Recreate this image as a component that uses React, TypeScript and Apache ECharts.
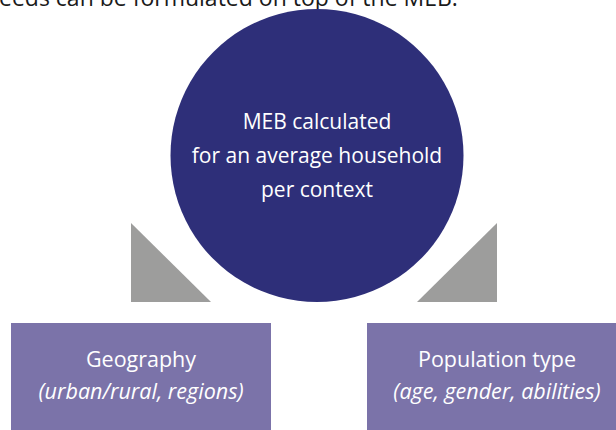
import React, { useEffect, useRef } from "react";
import * as echarts from "echarts";

const topLine = "eeds can be formulated on top of the MEB.";
const circleLines = ["MEB calculated", "for an average household", "per context"];
const boxTitles = ["Geography", "Population type"];
const boxSubtitles = ["(urban/rural, regions)", "(age, gender, abilities)"];

const NAVY = "#2e2f79";
const PURPLE = "#7b73a9";
const GREY = "#9d9d9c";
const FONT = "'Open Sans', 'Noto Sans', sans-serif";

export default function App() {
  const ref = useRef<HTMLDivElement>(null);
  useEffect(() => {
    if (!ref.current) return;
    const chart = echarts.init(ref.current, undefined, { renderer: "svg" });
    const cx = 317;
    const cy = 155.5;
    const r = 146.5;
    const lineMid = [120.7, 154.7, 188.7];
    const boxes = [
      { x: 11, y: 323, w: 260, h: 110, cx: 141 },
      { x: 367, y: 323, w: 252, h: 110, cx: 497 },
    ];
    const elements: any[] = [
      {
        type: "text",
        x: -1,
        y: -3.5,
        style: { text: topLine, fill: "#1a1a1a", font: `23px ${FONT}`, align: "left", verticalAlign: "middle" },
      },
      {
        type: "polygon",
        shape: { points: [[131, 223], [131, 302], [211, 302]] },
        style: { fill: GREY },
      },
      {
        type: "polygon",
        shape: { points: [[497, 223], [497, 302], [417, 302]] },
        style: { fill: GREY },
      },
      {
        type: "circle",
        shape: { cx, cy, r },
        style: { fill: NAVY },
      },
      ...circleLines.map((t, i) => ({
        type: "text",
        x: cx,
        y: lineMid[i],
        style: { text: t, fill: "#ffffff", font: `21px ${FONT}`, align: "center", verticalAlign: "middle" },
      })),
    ];
    boxes.forEach((b, i) => {
      elements.push({ type: "rect", shape: { x: b.x, y: b.y, width: b.w, height: b.h }, style: { fill: PURPLE } });
      elements.push({
        type: "text",
        x: b.cx,
        y: 358.6,
        style: { text: boxTitles[i], fill: "#ffffff", font: `21.5px ${FONT}`, align: "center", verticalAlign: "middle" },
      });
      elements.push({
        type: "text",
        x: b.cx,
        y: 390.6,
        style: { text: boxSubtitles[i], fill: "#ffffff", font: `italic 21.5px ${FONT}`, align: "center", verticalAlign: "middle" },
      });
    });
    chart.setOption({ animation: false, graphic: { elements } });
    return () => chart.dispose();
  }, []);
  return (
    <div
      ref={ref}
      style={{ position: "fixed", left: 0, top: 0, width: 616, height: 430, background: "#ffffff" }}
    />
  );
}
